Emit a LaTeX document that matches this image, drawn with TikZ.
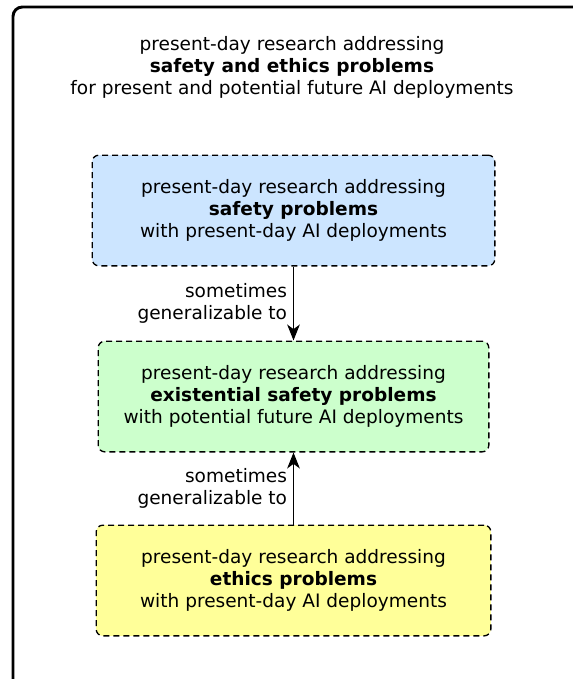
\documentclass[tikz,border=0pt]{standalone}
\usepackage{fontspec}
\setmainfont{DejaVu Sans}
\usetikzlibrary{arrows.meta}
\definecolor{safetyblue}{RGB}{204,229,255}
\definecolor{existgreen}{RGB}{204,255,204}
\definecolor{ethicsyellow}{RGB}{255,255,153}
\begin{document}
\begin{tikzpicture}[x=0.75pt, y=-0.75pt, font=\fontsize{13.9}{16.5}\selectfont,
	box/.style={draw, line width=1pt, dash pattern=on 4.5pt off 3pt, rounded corners=5pt,
		align=center, minimum height=83pt, inner sep=0pt},
	link/.style={-{Stealth[length=12pt, width=9.5pt, inset=3.5pt]}, line width=1pt},
	linklabel/.style={midway, anchor=east, align=right, xshift=-1pt}]
	\useasboundingbox (0,0) rectangle (572,679);
	%frame
	\draw[line width=2.2pt, rounded corners=7pt] (13,760) -- (13,7) -- (660,7);
	%title
	\node (title) at (292,67) [align=center] {present-day research addressing\\
		\textbf{safety and ethics problems}\\
		for present and potential future AI deployments};
	%boxes
	\node[box, fill=safetyblue, minimum width=302pt] (safety) at (293.5,210.5)
	{present-day research addressing\\ \textbf{safety problems}\\ with present-day AI deployments};
	\node[box, fill=existgreen, minimum width=293pt] (existential) at (293.5,396.5)
	{present-day research addressing\\ \textbf{existential safety problems}\\ with potential future AI deployments};
	\node[box, fill=ethicsyellow, minimum width=296pt] (ethics) at (293.5,580.5)
	{present-day research addressing\\ \textbf{ethics problems}\\ with present-day AI deployments};
	%arrows
	\draw[link] (safety) -- (existential)
	node[linklabel] {sometimes\\ generalizable to};
	\draw[link] (ethics) -- (existential)
	node[linklabel] {sometimes\\ generalizable to};
\end{tikzpicture}
\end{document}
